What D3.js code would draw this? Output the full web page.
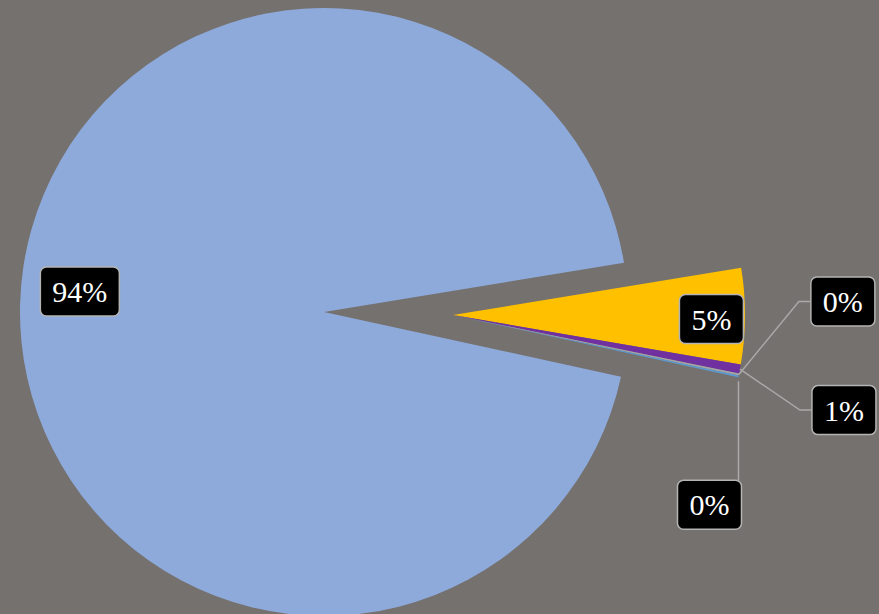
<!DOCTYPE html>
<html>
<head>
<meta charset="utf-8">
<script src="https://cdn.jsdelivr.net/npm/d3@7"></script>
<style>
  html, body { margin: 0; padding: 0; background: #75716f; }
  svg { display: block; }
</style>
</head>
<body>
<div id="chart"></div>
<script>
// Data
var categories = ["A", "B", "C", "D", "E"];
var values = [94.0, 5.3, 0.5, 0.1, 0.1];
var colors = ["#8eaadb", "#ffc000", "#7030a0", "#a5a5a5", "#5b9bd5"];
var exploded = [false, true, true, true, true];

(function () {
  var W = 879, H = 614;
  var bg = "#75716f";
  var fontFamily = "'Times New Roman', 'Liberation Serif', Times, serif";
  var fontSize = "30px";

  var svg = d3.select("#chart").append("svg")
    .attr("width", W)
    .attr("height", H)
    .style("background", bg);

  // main pie centre and radius, plus the pulled-out group
  var cx = 324, cy = 312, R = 304;
  var ex = 129, ey = 3, Rx = 292;

  var startDeg = 102.3;
  var pie = d3.pie().sort(null).value(function (d) { return d; })
    .startAngle(startDeg * Math.PI / 180)
    .endAngle(startDeg * Math.PI / 180 + 2 * Math.PI);

  var arcs = pie(values);

  var arcMain = d3.arc().innerRadius(0).outerRadius(R);
  var arcEx = d3.arc().innerRadius(0).outerRadius(Rx);

  var g = svg.append("g").attr("transform", "translate(" + cx + "," + cy + ")");

  arcs.forEach(function (a, i) {
    var dx = exploded[i] ? ex : 0, dy = exploded[i] ? ey : 0;
    g.append("path")
      .attr("transform", "translate(" + dx + "," + dy + ")")
      .attr("d", exploded[i] ? arcEx(a) : arcMain(a))
      .attr("fill", colors[i]);
  });

  // Labels
  function pct(v) { return Math.round(v) + "%"; }

  function textWidth(text) {
    var tmp = svg.append("text")
      .style("font-family", fontFamily)
      .style("font-size", fontSize).text(text);
    var w = tmp.node().getComputedTextLength();
    tmp.remove();
    return w + 24;
  }

  function labelBox(x, y, text) {
    var lg = svg.append("g").attr("transform", "translate(" + x + "," + y + ")");
    var bw = textWidth(text);
    var bh = 49;
    lg.append("rect")
      .attr("x", -bw / 2).attr("y", -bh / 2)
      .attr("width", bw).attr("height", bh)
      .attr("rx", 6).attr("ry", 6)
      .attr("fill", "#000000")
      .attr("stroke", "#b4b4b4")
      .attr("stroke-width", 1.5);
    lg.append("text")
      .attr("text-anchor", "middle")
      .attr("dy", "0.35em")
      .attr("fill", "#ffffff")
      .style("font-family", fontFamily)
      .style("font-size", fontSize)
      .text(text);
  }

  var leaders = svg.append("g")
    .attr("fill", "none")
    .attr("stroke", "#a9a9a9")
    .attr("stroke-width", 1.5);

  // outside label layouts for the tiny slices: elbow offset from the arc point
  var outside = {
    2: { ex: 60, ey: 41, side: "right" },
    3: { ex: 60, ey: -73, side: "right" },
    4: { ex: 0, ey: 104, side: "below" }
  };

  arcs.forEach(function (a, i) {
    var mid = (a.startAngle + a.endAngle) / 2;
    var ox = cx + (exploded[i] ? ex : 0);
    var oy = cy + (exploded[i] ? ey : 0);
    var r = exploded[i] ? Rx : R;
    var text = pct(values[i]);

    if (!outside[i]) {
      var big = values[i] > 50;
      var k = big ? 0.81 : 0.885;
      var lx = ox + Math.sin(mid) * r * k;
      var ly = oy - Math.cos(mid) * r * k + (big ? -14 : 3);
      labelBox(lx + (big ? 2 : 0), ly, text);
      return;
    }

    var o = outside[i];
    var px = ox + Math.sin(mid) * r;
    var py = oy - Math.cos(mid) * r;
    var bx = px + o.ex, by = py + o.ey;
    if (o.side === "right") {
      leaders.append("path")
        .attr("d", "M" + px + "," + py + "L" + bx + "," + by + "L" + (bx + 12) + "," + by);
      labelBox(bx + 12 + textWidth(text) / 2, by, text);
    } else {
      leaders.append("path")
        .attr("d", "M" + px + "," + (py + 5) + "L" + bx + "," + by);
      labelBox(bx - 29, by + 24.5, text);
    }
  });
})();
</script>
</body>
</html>
